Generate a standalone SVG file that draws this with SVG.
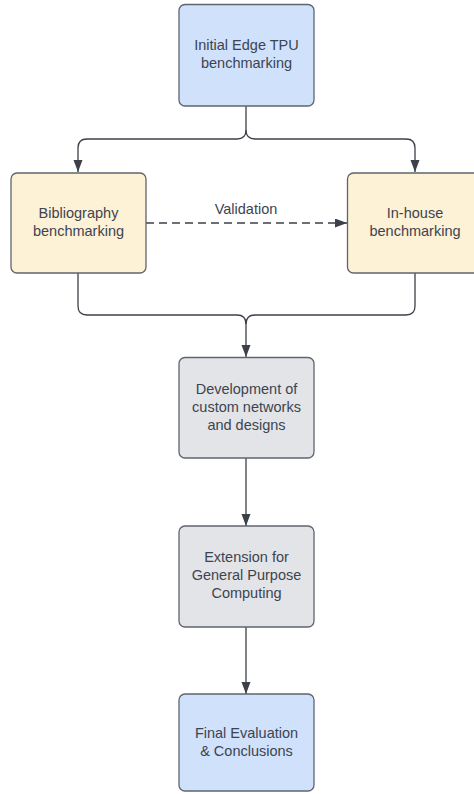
<svg xmlns="http://www.w3.org/2000/svg" width="474" height="794" viewBox="0 0 474 794">
<defs>
<style>
.box{stroke:#5f6470;stroke-width:1.3}
.blue{fill:#cfe1fb}
.yellow{fill:#fdf1d6}
.gray{fill:#e2e4e8}
.t{font-family:"Liberation Sans",Arial,sans-serif;font-size:14.5px;fill:#3d4450;text-anchor:middle}
.c{fill:none;stroke:#3c4048;stroke-width:1.3}
.d{stroke-dasharray:8 5}
</style>
<marker id="ah" markerUnits="userSpaceOnUse" markerWidth="14" markerHeight="12" refX="12" refY="4.5" orient="auto">
<path d="M0,0 L12,4.5 L0,9 Z" fill="#3c4048"/>
</marker>
</defs>
<rect width="474" height="794" fill="#ffffff"/>
<g id="connectors">
<path class="c" d="M246,106 V130 Q246,139 237,139 H87 Q78,139 78,148 V172" marker-end="url(#ah)"/>
<path class="c" d="M246,130 Q246,139 255,139 H406 Q415,139 415,148 V172" marker-end="url(#ah)"/>
<path class="c d" d="M146,223 H347" marker-end="url(#ah)"/>
<text class="t" x="246" y="214">Validation</text>
<path class="c" d="M78,273 V306 Q78,315 87,315 H237 Q246,315 246,324 V357" marker-end="url(#ah)"/>
<path class="c" d="M415,273 V306 Q415,315 406,315 H255 Q246,315 246,324"/>
<path class="c" d="M246,458 V526" marker-end="url(#ah)"/>
<path class="c" d="M246,627 V694" marker-end="url(#ah)"/>
</g>
<g id="n1">
<rect class="box blue" x="179" y="4.5" width="135" height="101.5" rx="6"/>
<text class="t" x="246.5" y="49.5">Initial Edge TPU</text>
<text class="t" x="246.5" y="68">benchmarking</text>
</g>
<g id="n2">
<rect class="box yellow" x="11" y="173" width="135" height="100" rx="6"/>
<text class="t" x="78.5" y="218">Bibliography</text>
<text class="t" x="78.5" y="236">benchmarking</text>
</g>
<g id="n3">
<rect class="box yellow" x="347.5" y="173" width="135" height="100" rx="6"/>
<text class="t" x="415" y="218">In-house</text>
<text class="t" x="415" y="236">benchmarking</text>
</g>
<g id="n4">
<rect class="box gray" x="179" y="357.5" width="135" height="100.5" rx="6"/>
<text class="t" x="246.5" y="394">Development of</text>
<text class="t" x="246.5" y="412">custom networks</text>
<text class="t" x="246.5" y="430">and designs</text>
</g>
<g id="n5">
<rect class="box gray" x="179" y="526" width="135" height="101" rx="6"/>
<text class="t" x="246.5" y="562">Extension for</text>
<text class="t" x="246.5" y="580">General Purpose</text>
<text class="t" x="246.5" y="598">Computing</text>
</g>
<g id="n6">
<rect class="box blue" x="179" y="694" width="135" height="97" rx="6"/>
<text class="t" x="246.5" y="738">Final Evaluation</text>
<text class="t" x="246.5" y="756">&amp; Conclusions</text>
</g>
</svg>
